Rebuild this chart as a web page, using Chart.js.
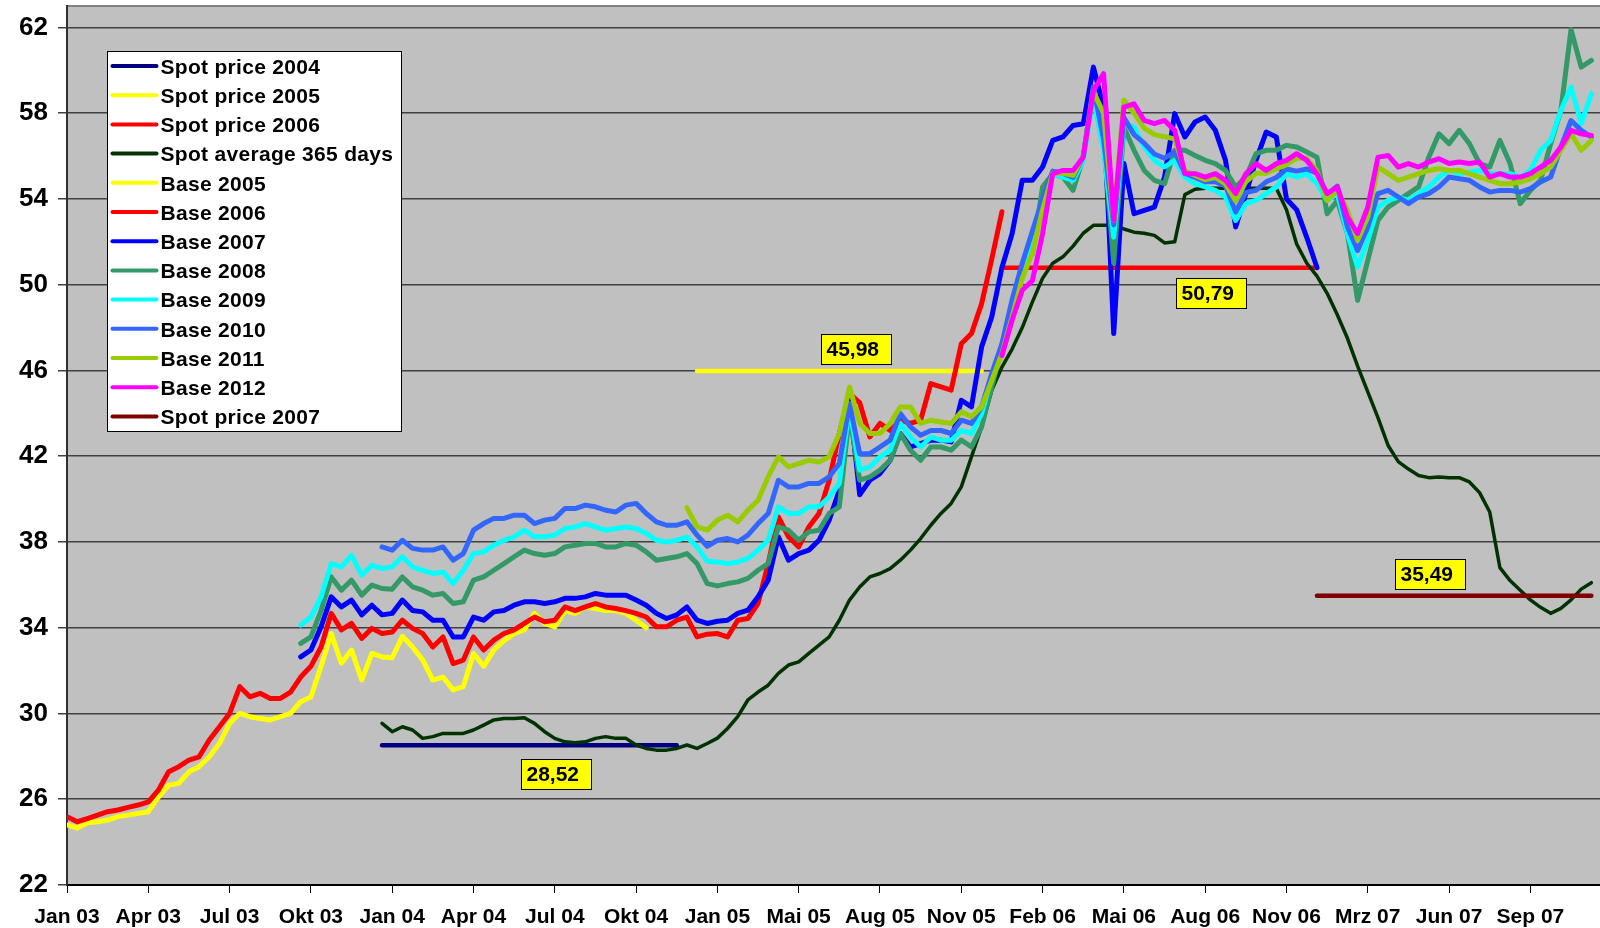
<!DOCTYPE html>
<html>
<head>
<meta charset="utf-8">
<title>Spot and base prices</title>
<script src="https://cdn.jsdelivr.net/npm/chart.js@4.4.1/dist/chart.umd.min.js"></script>
<style>
    html, body { margin: 0; padding: 0; background: #ffffff; }
    #wrap { width: 1600px; height: 928px; }
</style>
</head>
<body>
<div id="wrap"><canvas id="priceChart" width="1600" height="928"></canvas></div>
<script>
// Axis labels (one label every 8 points on the x index)
const xTickLabels = ['Jan 03', 'Apr 03', 'Jul 03', 'Okt 03', 'Jan 04', 'Apr 04', 'Jul 04', 'Okt 04', 'Jan 05',
    'Mai 05', 'Aug 05', 'Nov 05', 'Feb 06', 'Mai 06', 'Aug 06', 'Nov 06', 'Mrz 07', 'Jun 07', 'Sep 07'];
const yTickValues = [22, 26, 30, 34, 38, 42, 46, 50, 54, 58, 62];
const pointsPerTick = 8;
const xMax = 150.85;

// Yearly spot averages: value and the x index range it covers
const spot2004 = { value: 28.52, from: 31, to: 60 };
const spot2005 = { value: 45.98, from: 62, to: 90 };
const spot2006 = { value: 50.79, from: 92, to: 123 };
const spot2007 = { value: 35.49, from: 123, to: 150 };

// Spot average 365 days, starts at index 31
const spotAvgStart = 31;
const spotAvg = [29.54, 29.15, 29.38, 29.23, 28.84, 28.92, 29.07, 29.07, 29.07, 29.23,
    29.46, 29.7, 29.77, 29.77, 29.8, 29.54, 29.15, 28.84, 28.68, 28.63,
    28.68, 28.84, 28.92, 28.84, 28.84, 28.53, 28.37, 28.29, 28.29, 28.37,
    28.53, 28.37, 28.6, 28.85, 29.3, 29.85, 30.63, 31.0, 31.32, 31.87,
    32.26, 32.41, 32.8, 33.19, 33.57, 34.35, 35.29, 35.9, 36.37, 36.53,
    36.76, 37.15, 37.62, 38.16, 38.78, 39.33, 39.8, 40.57, 41.97, 43.37,
    45.08, 46.16, 47.0, 48.0, 49.2, 50.3, 51.0, 51.3, 51.8, 52.4,
    52.77, 52.77, 52.77, 52.6, 52.45, 52.4, 52.3, 51.95, 52.0, 54.2,
    54.45, 54.5, 54.5, 54.5, 54.5, 54.5, 54.5, 54.5, 54.5, 53.5,
    51.9, 51.0, 50.4, 49.6, 48.6, 47.5, 46.2, 45.0, 43.8, 42.5,
    41.75, 41.4, 41.1, 41.0, 41.03, 41.0, 41.0, 40.8, 40.3, 39.4,
    36.8, 36.2, 35.75, 35.3, 34.95, 34.67, 34.9, 35.3, 35.8, 36.1];

// Base 2005, starts at index 0
const base2005Start = 0;
const base2005 = [24.8, 24.66, 24.9, 24.95, 25.03, 25.19, 25.26, 25.34, 25.42, 26.1,
    26.66, 26.74, 27.28, 27.52, 27.98, 28.6, 29.54, 30.0, 29.85, 29.77,
    29.7, 29.85, 30.0, 30.55, 30.77, 32.2, 33.73, 32.35, 32.96, 31.56,
    32.8, 32.64, 32.6, 33.6, 33.1, 32.5, 31.56, 31.7, 31.1, 31.25,
    32.8, 32.2, 32.96, 33.4, 33.73, 33.9, 34.67, 34.2, 34.04, 34.8,
    34.67, 34.97, 34.9, 34.8, 34.8, 34.67, 34.35, 34.0];

// Base 2006, starts at index 0
const base2006Start = 0;
const base2006 = [25.18, 24.95, 25.1, 25.26, 25.42, 25.5, 25.62, 25.73, 25.88, 26.43,
    27.28, 27.52, 27.83, 27.98, 28.76, 29.38, 30.0, 31.25, 30.78, 30.94,
    30.7, 30.7, 31.0, 31.7, 32.2, 33.1, 34.67, 33.9, 34.2, 33.5,
    33.97, 33.73, 33.8, 34.35, 33.97, 33.73, 33.1, 33.57, 32.33, 32.49,
    33.57, 32.96, 33.42, 33.73, 33.9, 34.2, 34.5, 34.28, 34.35, 34.97,
    34.8, 34.97, 35.13, 34.97, 34.9, 34.8, 34.67, 34.5, 34.04, 34.04,
    34.35, 34.5, 33.57, 33.7, 33.73, 33.57, 34.35, 34.43, 35.13, 37.0,
    39.17, 38.24, 37.77, 38.7, 39.33, 40.88, 43.06, 44.92, 44.5, 42.9,
    43.53, 43.2, 43.68, 43.53, 43.68, 45.39, 45.23, 45.08, 47.25, 47.72,
    49.12, 51.2, 53.4];

// Base 2007, starts at index 23
const base2007Start = 23;
const base2007 = [32.64, 32.96, 34.04, 35.44, 34.97, 35.29, 34.6, 35.05, 34.6, 34.67,
    35.29, 34.8, 34.74, 34.35, 34.35, 33.57, 33.57, 34.5, 34.35, 34.74,
    34.8, 35.05, 35.21, 35.21, 35.13, 35.21, 35.37, 35.37, 35.44, 35.6,
    35.52, 35.52, 35.52, 35.29, 35.05, 34.67, 34.43, 34.6, 34.97, 34.35,
    34.2, 34.3, 34.35, 34.67, 34.82, 35.44, 36.22, 38.24, 37.15, 37.46,
    37.62, 38.08, 39.02, 40.41, 44.61, 40.2, 40.88, 41.19, 41.81, 43.06,
    42.43, 42.59, 42.75, 42.75, 42.67, 44.61, 44.3, 47.1, 48.5, 50.8,
    52.38, 54.87, 54.87, 55.49, 56.73, 56.89, 57.43, 57.51, 60.15, 58.28,
    47.72, 55.65, 53.31, 53.47, 53.62, 55.02, 57.98, 56.89, 57.59, 57.82,
    57.2, 55.8, 52.69, 54.25, 55.8, 57.12, 56.89, 54.0, 53.5, 52.2,
    50.8];

// Base 2008, starts at index 23
const base2008Start = 23;
const base2008 = [33.27, 33.57, 34.8, 36.37, 35.75, 36.22, 35.52, 35.99, 35.83, 35.8,
    36.37, 35.91, 35.75, 35.52, 35.6, 35.13, 35.21, 36.22, 36.37, 36.68,
    36.99, 37.31, 37.62, 37.46, 37.38, 37.46, 37.77, 37.85, 37.93, 37.93,
    37.77, 37.77, 37.93, 37.85, 37.54, 37.15, 37.23, 37.31, 37.46, 36.99,
    36.06, 35.95, 36.06, 36.14, 36.3, 36.68, 36.99, 38.7, 38.55, 38.08,
    38.47, 38.55, 39.33, 39.64, 43.99, 40.88, 41.04, 41.35, 41.81, 43.06,
    42.28, 41.81, 42.43, 42.43, 42.28, 42.75, 42.43, 43.37, 45.23, 47.1,
    48.6, 50.83, 51.45, 54.56, 55.18, 55.02, 54.4, 55.95, 59.22, 56.73,
    51.0, 57.35, 56.27, 55.33, 54.87, 54.71, 56.27, 56.27, 56.03, 55.8,
    55.65, 55.33, 54.56, 55.02, 56.11, 56.27, 56.27, 56.5, 56.42, 56.19,
    55.95, 53.31, 53.93, 52.38, 49.27, 51.14, 53.0, 53.62, 53.93, 54.25,
    54.56, 55.95, 57.04, 56.58, 57.2, 56.58, 55.65, 55.49, 56.73, 55.65,
    53.78, 54.4, 54.87, 56.58, 58.13, 61.9, 60.15, 60.46];

// Base 2009, starts at index 23
const base2009Start = 23;
const base2009 = [34.12, 34.5, 35.44, 36.99, 36.84, 37.38, 36.45, 36.92, 36.76, 36.84,
    37.31, 36.84, 36.68, 36.53, 36.6, 36.06, 36.68, 37.46, 37.54, 37.85,
    38.08, 38.24, 38.55, 38.24, 38.24, 38.32, 38.63, 38.7, 38.86, 38.7,
    38.55, 38.63, 38.7, 38.63, 38.4, 38.08, 38.0, 38.08, 38.24, 37.77,
    37.1, 37.07, 36.99, 37.07, 37.23, 37.62, 38.08, 39.64, 39.33, 39.33,
    39.64, 39.64, 40.1, 40.73, 44.3, 41.35, 41.5, 41.97, 42.28, 43.53,
    42.9, 42.43, 42.9, 42.75, 42.75, 43.2, 43.06, 43.99, 45.7, 47.1,
    49.0, 50.52, 52.07, 53.62, 55.18, 55.02, 54.87, 55.8, 58.75, 56.27,
    52.22, 57.51, 57.35, 56.42, 55.8, 55.49, 55.8, 55.02, 54.71, 54.56,
    54.4, 54.09, 53.0, 53.78, 53.93, 54.25, 54.56, 55.18, 55.02, 55.18,
    54.71, 53.93, 54.25, 52.38, 50.83, 52.07, 53.62, 53.93, 54.09, 53.93,
    54.25, 54.56, 55.02, 55.33, 55.18, 55.26, 55.33, 55.18, 55.18, 55.18,
    55.02, 55.33, 56.27, 56.73, 58.13, 59.22, 57.51, 58.91];

// Base 2010, starts at index 31
const base2010Start = 31;
const base2010 = [37.77, 37.62, 38.08, 37.7, 37.62, 37.62, 37.77, 37.15, 37.46, 38.55,
    38.86, 39.1, 39.1, 39.25, 39.25, 38.86, 39.02, 39.1, 39.56, 39.56,
    39.72, 39.64, 39.48, 39.4, 39.72, 39.8, 39.33, 38.94, 38.78, 38.78,
    38.94, 38.32, 37.8, 38.08, 38.16, 38.0, 38.32, 38.86, 39.33, 40.88,
    40.57, 40.57, 40.73, 40.73, 41.04, 41.66, 44.46, 42.12, 42.12, 42.43,
    42.75, 43.99, 43.37, 42.98, 43.2, 43.2, 43.06, 43.68, 43.53, 44.3,
    45.86, 47.25, 49.3, 51.0, 52.5, 54.0, 55.3, 55.2, 55.0, 56.0,
    59.2, 56.8, 52.8, 57.8, 57.0, 56.6, 56.1, 55.9, 56.2, 55.2,
    55.0, 54.8, 54.8, 54.6, 53.4, 54.3, 54.4, 54.8, 55.0, 55.4,
    55.3, 55.4, 55.2, 54.2, 54.6, 52.69, 51.6, 52.69, 54.25, 54.4,
    54.09, 53.78, 54.09, 54.25, 54.56, 55.02, 54.94, 54.87, 54.56, 54.32,
    54.4, 54.4, 54.32, 54.48, 54.79, 55.02, 56.42, 57.66, 57.2, 56.89];

// Base 2011, starts at index 61
const base2011Start = 61;
const base2011 = [39.6, 38.7, 38.55, 39.02, 39.25, 38.94, 39.48, 39.95, 41.04, 41.97,
    41.5, 41.66, 41.81, 41.73, 41.97, 43.06, 45.23, 43.53, 43.06, 43.06,
    43.53, 44.3, 44.3, 43.53, 43.68, 43.6, 43.53, 44.07, 43.84, 44.3,
    45.54, 46.79, 48.5, 50.3, 51.5, 53.5, 55.2, 55.2, 55.1, 56.0,
    59.0, 58.0, 53.0, 58.6, 58.0, 57.3, 57.0, 56.9, 56.8, 55.3,
    55.1, 54.9, 55.0, 54.7, 53.9, 54.8, 55.2, 55.2, 55.4, 55.6,
    55.9, 55.9, 55.3, 53.93, 54.4, 53.47, 52.07, 53.16, 55.49, 55.18,
    54.87, 55.02, 55.18, 55.33, 55.41, 55.33, 55.33, 55.18, 55.02, 54.87,
    54.71, 54.71, 54.79, 54.94, 55.18, 55.49, 56.27, 57.04, 56.27, 56.73];

// Base 2012, starts at index 92
const base2012Start = 92;
const base2012 = [46.7, 48.34, 49.74, 50.2, 52.38, 55.18, 55.33, 55.33, 55.95, 59.06,
    59.85, 53.0, 58.28, 58.44, 57.66, 57.51, 57.66, 57.2, 55.18, 55.18,
    55.02, 55.18, 54.87, 54.25, 55.18, 55.65, 55.33, 55.65, 55.8, 56.11,
    55.8, 55.18, 54.25, 54.56, 53.16, 52.38, 53.62, 55.95, 56.03, 55.49,
    55.65, 55.49, 55.72, 55.88, 55.65, 55.72, 55.65, 55.72, 55.02, 55.18,
    55.02, 55.02, 55.18, 55.49, 55.8, 56.42, 57.2, 57.04, 56.96];

// Yellow value boxes: which spot average, x index of box centre, pixel shift from the line
const valueBoxes = [
    { spot: spot2004, at: 48.1, shift: 29 },
    { spot: spot2005, at: 77.6, shift: -22 },
    { spot: spot2006, at: 112.6, shift: 25 },
    { spot: spot2007, at: 134.1, shift: -22 }
];

const FONT = '"Liberation Sans", Arial, sans-serif';

// Turn a value array with a start index into chart points
function toPoints(values, start) {
    return values.map((v, k) => ({ x: start + k, y: v }));
}

// Horizontal average line from its range
function flatLine(spot) {
    return [{ x: spot.from, y: spot.value }, { x: spot.to, y: spot.value }];
}

// Format number with German decimal comma
function formatValue(number) {
    return number.toFixed(2).replace('.', ',');
}

// Build line datasets in legend order
function buildDatasets() {
    const series = [
        { label: 'Spot price 2004', color: '#000080', data: flatLine(spot2004), width: 4.5 },
        { label: 'Spot price 2005', color: '#FFFF00', data: flatLine(spot2005), width: 4.5 },
        { label: 'Spot price 2006', color: '#FF0000', data: flatLine(spot2006), width: 4.5 },
        { label: 'Spot average 365 days', color: '#003300', data: toPoints(spotAvg, spotAvgStart), width: 3.5 },
        { label: 'Base 2005', color: '#FFFF00', data: toPoints(base2005, base2005Start), width: 5 },
        { label: 'Base 2006', color: '#FF0000', data: toPoints(base2006, base2006Start), width: 5 },
        { label: 'Base 2007', color: '#0000FF', data: toPoints(base2007, base2007Start), width: 5 },
        { label: 'Base 2008', color: '#339966', data: toPoints(base2008, base2008Start), width: 5 },
        { label: 'Base 2009', color: '#00FFFF', data: toPoints(base2009, base2009Start), width: 5 },
        { label: 'Base 2010', color: '#3366FF', data: toPoints(base2010, base2010Start), width: 5 },
        { label: 'Base 2011', color: '#99CC00', data: toPoints(base2011, base2011Start), width: 5 },
        { label: 'Base 2012', color: '#FF00FF', data: toPoints(base2012, base2012Start), width: 5 },
        { label: 'Spot price 2007', color: '#800000', data: flatLine(spot2007), width: 4.5 }
    ];
    return series.map((s, k) => ({
        label: s.label,
        data: s.data,
        borderColor: s.color,
        backgroundColor: s.color,
        borderWidth: s.width,
        borderCapStyle: 'round',
        borderJoinStyle: 'round',
        pointRadius: 0,
        tension: 0,
        fill: false,
        order: series.length - k
    }));
}

// Grey plot background and frame
const plotFrame = {
    id: 'plotFrame',
    beforeDraw(chart) {
        const { ctx, chartArea: a } = chart;
        ctx.save();
        ctx.fillStyle = '#C0C0C0';
        ctx.fillRect(a.left, a.top, a.right - a.left, a.bottom - a.top);
        ctx.strokeStyle = '#808080';
        ctx.lineWidth = 2;
        ctx.beginPath();
        ctx.moveTo(a.left, a.top);
        ctx.lineTo(a.right, a.top);
        ctx.stroke();
        ctx.restore();
    }
};

// Yellow boxes with the yearly averages
const valueLabels = {
    id: 'valueLabels',
    afterDatasetsDraw(chart) {
        const { ctx, scales } = chart;
        ctx.save();
        ctx.font = 'bold 21px ' + FONT;
        ctx.textBaseline = 'middle';
        valueBoxes.forEach(b => {
            const cx = scales.x.getPixelForValue(b.at);
            const cy = scales.y.getPixelForValue(b.spot.value) + b.shift;
            const w = 70, h = 30;
            const left = Math.round(cx - w / 2) + 0.5;
            const top = Math.round(cy - h / 2) + 0.5;
            ctx.fillStyle = '#FFFF00';
            ctx.fillRect(left, top, w, h);
            ctx.strokeStyle = '#000000';
            ctx.lineWidth = 1;
            ctx.strokeRect(left, top, w, h);
            ctx.fillStyle = '#000000';
            ctx.textAlign = 'left';
            ctx.fillText(formatValue(b.spot.value), left + 5, top + h / 2 + 1);
        });
        ctx.restore();
    }
};

// Legend box in the upper left of the plot
const boxLegend = {
    id: 'boxLegend',
    afterDraw(chart) {
        const { ctx } = chart;
        const left = 107.5, top = 51.5, width = 294, height = 380;
        const rowHeight = 29.2;
        ctx.save();
        ctx.fillStyle = '#FFFFFF';
        ctx.fillRect(left, top, width, height);
        ctx.strokeStyle = '#000000';
        ctx.lineWidth = 1;
        ctx.strokeRect(left, top, width, height);
        ctx.font = 'bold 21px ' + FONT;
        ctx.letterSpacing = '0.3px';
        ctx.textBaseline = 'middle';
        ctx.textAlign = 'left';
        chart.data.datasets.forEach((ds, k) => {
            const y = top + 14.5 + k * rowHeight;
            ctx.strokeStyle = ds.borderColor;
            ctx.lineWidth = 4;
            ctx.lineCap = 'round';
            ctx.beginPath();
            ctx.moveTo(left + 5, y);
            ctx.lineTo(left + 49, y);
            ctx.stroke();
            ctx.fillStyle = '#000000';
            ctx.fillText(ds.label, left + 53, y + 2);
        });
        ctx.restore();
    }
};

// Create chart
function createChart() {
    const ctx = document.getElementById('priceChart');
    return new Chart(ctx, {
        type: 'line',
        data: { datasets: buildDatasets() },
        options: {
            responsive: false,
            animation: false,
            devicePixelRatio: 1,
            layout: { padding: { top: 6, right: 0, bottom: 0, left: 0 } },
            plugins: {
                legend: { display: false },
                tooltip: { enabled: false }
            },
            scales: {
                x: {
                    type: 'linear',
                    min: 0,
                    max: xMax,
                    afterBuildTicks: (scale) => {
                        scale.ticks = xTickLabels.map((_, k) => ({ value: k * pointsPerTick }));
                    },
                    afterFit: (scale) => { scale.height = 43; },
                    grid: {
                        drawOnChartArea: false,
                        tickLength: 8,
                        tickColor: '#000000',
                        tickWidth: 1
                    },
                    border: { color: '#000000', width: 2 },
                    ticks: {
                        autoSkip: false,
                        maxRotation: 0,
                        padding: 12,
                        color: '#000000',
                        font: { family: FONT, size: 21, weight: 'bold' },
                        callback: (value) => xTickLabels[Math.round(value / pointsPerTick)]
                    }
                },
                y: {
                    min: 22,
                    max: 63,
                    afterBuildTicks: (scale) => {
                        scale.ticks = yTickValues.map(v => ({ value: v }));
                    },
                    afterFit: (scale) => {
                        scale.width = 67;
                        scale.paddingTop = 0;
                        scale.paddingBottom = 0;
                    },
                    grid: {
                        color: '#404040',
                        lineWidth: 1.5,
                        tickLength: 9,
                        tickColor: '#404040'
                    },
                    border: { color: '#303030', width: 2 },
                    ticks: {
                        padding: 10,
                        color: '#000000',
                        font: { family: FONT, size: 26, weight: 'bold' }
                    }
                }
            }
        },
        plugins: [plotFrame, valueLabels, boxLegend]
    });
}

document.addEventListener('DOMContentLoaded', () => {
    createChart();
});
</script>
</body>
</html>
